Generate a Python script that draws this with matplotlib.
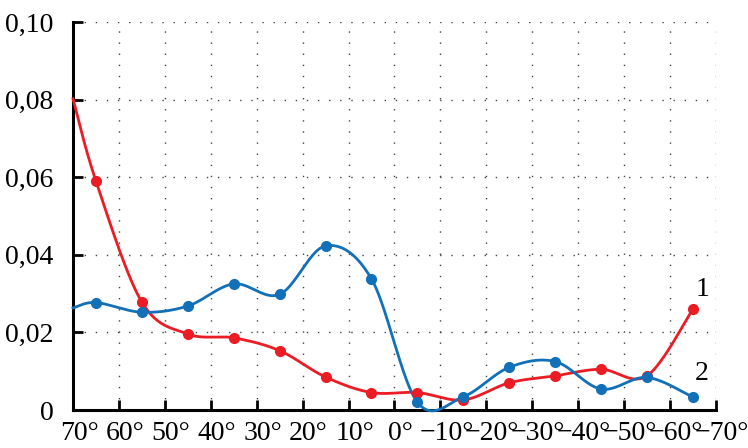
import matplotlib
matplotlib.use("Agg")
import matplotlib.pyplot as plt
import matplotlib.transforms as mtransforms
import numpy as np

plt.rcParams['font.family'] = ['Liberation Serif', 'DejaVu Serif']

# latitude (deg) and values for both curves
lat = [70, 65, 55, 45, 35, 25, 15, 5, -5, -15, -25, -35, -45, -55, -65]
curve1 = [0.0802, 0.0590, 0.0278, 0.0196, 0.0186, 0.0153, 0.0085, 0.0045,
          0.0045, 0.0026, 0.0070, 0.0088, 0.0105, 0.0088, 0.0260]
curve2 = [0.0263, 0.0277, 0.0252, 0.0268, 0.0325, 0.0298, 0.0423, 0.0338,
          0.0020, 0.0034, 0.0110, 0.0125, 0.0054, 0.0084, 0.0033]

xticks = list(range(70, -71, -10))
xlabels = [f"{v}°".replace("-", "\u2212") for v in xticks]
yticks = [0, 0.02, 0.04, 0.06, 0.08, 0.10]
ylabels = ["0", "0,02", "0,04", "0,06", "0,08", "0,10"]

RED = "#ec1c24"
BLUE = "#1170b8"


def smooth(x, y, n=40):
    # bezier smoothing through the points (catmull-rom style control points)
    x = np.asarray(x, float)
    y = np.asarray(y, float)
    px = np.concatenate([[x[0]], x, [x[-1]]])
    py = np.concatenate([[y[0]], y, [y[-1]]])
    t = np.linspace(0, 1, n)[:, None]
    xs, ys = [], []
    for i in range(1, len(px) - 2):
        p0 = np.array([px[i], py[i]])
        p3 = np.array([px[i + 1], py[i + 1]])
        c1 = p0 + (p3 - np.array([px[i - 1], py[i - 1]])) / 6
        c2 = p3 - (np.array([px[i + 2], py[i + 2]]) - p0) / 6
        b = ((1 - t) ** 3) * p0 + 3 * ((1 - t) ** 2) * t * c1 \
            + 3 * (1 - t) * t ** 2 * c2 + t ** 3 * p3
        xs.append(b[:, 0])
        ys.append(b[:, 1])
    return np.concatenate(xs), np.concatenate(ys)


fig = plt.figure(figsize=(7.48, 4.48), dpi=100)
ax = fig.add_axes([0.0976, 0.0848, 0.8594, 0.8661])

for ys, col in [(curve1, RED), (curve2, BLUE)]:
    sx, sy = smooth(lat, ys)
    ax.plot(sx, sy, color=col, lw=2.0, clip_on=False, zorder=3)
    ax.plot(lat[1:], ys[1:], 'o', color=col, ms=7, clip_on=False, zorder=4)

ax.set_xlim(70, -70)
ax.set_ylim(0, 0.10)
ax.set_xticks(xticks)
ax.set_xticklabels(xlabels)
ax.set_yticks(yticks)
ax.set_yticklabels(ylabels)

ax.grid(True, linestyle=(0, (1, 7)), color="#444444", lw=1.0)
for s in ["top", "right"]:
    ax.spines[s].set_visible(False)
for s in ["left", "bottom"]:
    ax.spines[s].set_linewidth(2.2)
ax.tick_params(direction="in", length=7, width=2, labelsize=20, pad=8)
ax.tick_params(axis="y", pad=14)

# degree sign hangs to the right of the number
shift = mtransforms.ScaledTranslation(6 / 100, 0, fig.dpi_scale_trans)
for lab in ax.get_xticklabels():
    lab.set_transform(lab.get_transform() + shift)

ax.text(-67, 0.031, "1", fontsize=20, ha="center", va="center")
ax.text(-67, 0.0095, "2", fontsize=20, ha="center", va="center")

fig.savefig("out.png", dpi=100)
